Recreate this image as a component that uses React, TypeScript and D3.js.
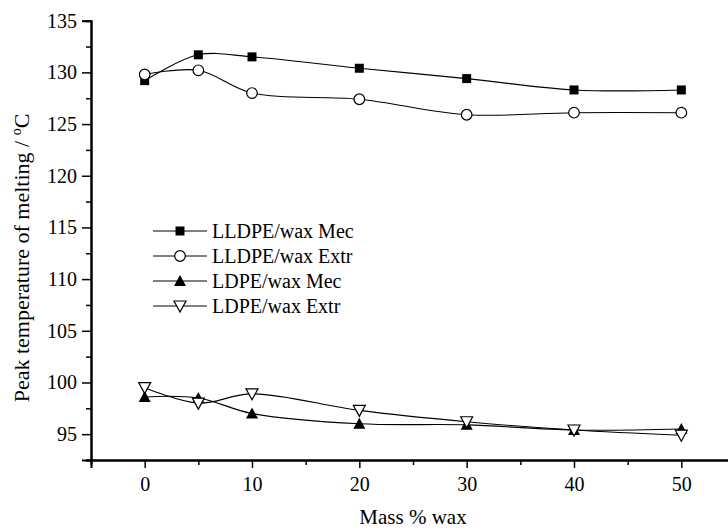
import React, { useEffect, useRef } from 'react';
import * as d3 from 'd3';

const massWax = [0, 5, 10, 20, 30, 40, 50];
const lldpeMec = [129.2, 131.7, 131.5, 130.4, 129.4, 128.3, 128.3];
const lldpeExtr = [129.8, 130.2, 128.0, 127.4, 125.9, 126.1, 126.1];
const ldpeMec = [98.6, 98.5, 97.0, 96.0, 95.9, 95.4, 95.5];
const ldpeExtr = [99.5, 98.0, 98.9, 97.3, 96.2, 95.4, 94.9];

const seriesNames = ['LLDPE/wax Mec', 'LLDPE/wax Extr', 'LDPE/wax Mec', 'LDPE/wax Extr'];
const seriesValues = [lldpeMec, lldpeExtr, ldpeMec, ldpeExtr];
const seriesMarkers = ['square', 'circle', 'triUp', 'triDown'];

const xTicks = [0, 10, 20, 30, 40, 50];
const xMinorTicks = [5, 15, 25, 35, 45, 55];
const yTicks = [95, 100, 105, 110, 115, 120, 125, 130, 135];
const yMinorTicks = [92.5, 97.5, 102.5, 107.5, 112.5, 117.5, 122.5, 127.5, 132.5];

const FONT = '"Liberation Serif", "Times New Roman", serif';

const drawMarker = (g, type, x, y) => {
  if (type === 'square') {
    g.append('rect')
      .attr('x', x - 4.5).attr('y', y - 4.5)
      .attr('width', 9).attr('height', 9)
      .attr('fill', '#000');
  } else if (type === 'circle') {
    g.append('circle')
      .attr('cx', x).attr('cy', y).attr('r', 5.3)
      .attr('fill', '#fff').attr('stroke', '#000').attr('stroke-width', 1.2);
  } else if (type === 'triUp') {
    g.append('path')
      .attr('d', `M${x - 6},${y + 5}L${x + 6},${y + 5}L${x},${y - 6}Z`)
      .attr('fill', '#000');
  } else {
    g.append('path')
      .attr('d', `M${x - 6},${y - 5}L${x + 6},${y - 5}L${x},${y + 6}Z`)
      .attr('fill', '#fff').attr('stroke', '#000').attr('stroke-width', 1.2);
  }
};

const App = () => {
  const svgRef = useRef(null);

  useEffect(() => {
    const svg = d3.select(svgRef.current);
    svg.selectAll('*').remove();

    const xScale = d3.scaleLinear().domain([-5, 55]).range([91, 735]);
    const yScale = d3.scaleLinear().domain([92.5, 135]).range([460, 20.7]);

    // axes
    const xAxis = svg.append('g').attr('transform', 'translate(0,460)');
    xAxis.call(
      d3.axisBottom(xScale).tickValues(xTicks).tickSize(8).tickPadding(9).tickFormat(d3.format('d'))
    );
    xAxis.append('g').call(
      d3.axisBottom(xScale).tickValues(xMinorTicks).tickSize(5).tickFormat(() => '')
    );

    const yAxis = svg.append('g').attr('transform', 'translate(91,0)');
    yAxis.call(
      d3.axisLeft(yScale).tickValues(yTicks).tickSize(9).tickPadding(5).tickFormat(d3.format('d'))
    );
    yAxis.append('g').call(
      d3.axisLeft(yScale).tickValues(yMinorTicks).tickSize(5).tickFormat(() => '')
    );

    svg.selectAll('.domain').attr('stroke', '#000').attr('stroke-width', 2);
    svg.selectAll('.tick line').attr('stroke', '#000').attr('stroke-width', 1.5);
    svg.selectAll('.tick text')
      .attr('fill', '#000')
      .style('font-family', FONT)
      .style('font-size', '20px');

    // curves
    const line = d3.line()
      .x((d) => xScale(d[0]))
      .y((d) => yScale(d[1]))
      .curve(d3.curveCatmullRom.alpha(0.5));

    seriesValues.forEach((vals) => {
      const pts = massWax.map((m, i) => [m, vals[i]]);
      svg.append('path')
        .datum(pts)
        .attr('fill', 'none')
        .attr('stroke', '#000')
        .attr('stroke-width', 1.1)
        .attr('d', line);
    });

    seriesValues.forEach((vals, s) => {
      const g = svg.append('g');
      massWax.forEach((m, i) => drawMarker(g, seriesMarkers[s], xScale(m), yScale(vals[i])));
    });

    // legend
    const legend = svg.append('g');
    seriesNames.forEach((name, i) => {
      const y = 231 + i * 25;
      legend.append('line')
        .attr('x1', 153).attr('x2', 207)
        .attr('y1', y).attr('y2', y)
        .attr('stroke', '#000').attr('stroke-width', 1);
      drawMarker(legend, seriesMarkers[i], 180, y);
      legend.append('text')
        .attr('x', 212).attr('y', y + 7)
        .style('font-family', FONT)
        .style('font-size', '20px')
        .text(name);
    });

    // axis titles
    svg.append('text')
      .attr('x', 413).attr('y', 524)
      .attr('text-anchor', 'middle')
      .style('font-family', FONT)
      .style('font-size', '21px')
      .text('Mass % wax');

    const yTitle = svg.append('text')
      .attr('transform', 'translate(29,258) rotate(-90)')
      .attr('text-anchor', 'middle')
      .style('font-family', FONT)
      .style('font-size', '22px');
    yTitle.append('tspan').text('Peak temperature of melting / ');
    yTitle.append('tspan').attr('dy', -8).style('font-size', '14px').text('o');
    yTitle.append('tspan').attr('dy', 8).text('C');
  }, []);

  return (
    <svg
      ref={svgRef}
      width={728}
      height={532}
      style={{ position: 'absolute', left: 0, top: 0, background: '#fff' }}
    />
  );
};

export default App;
